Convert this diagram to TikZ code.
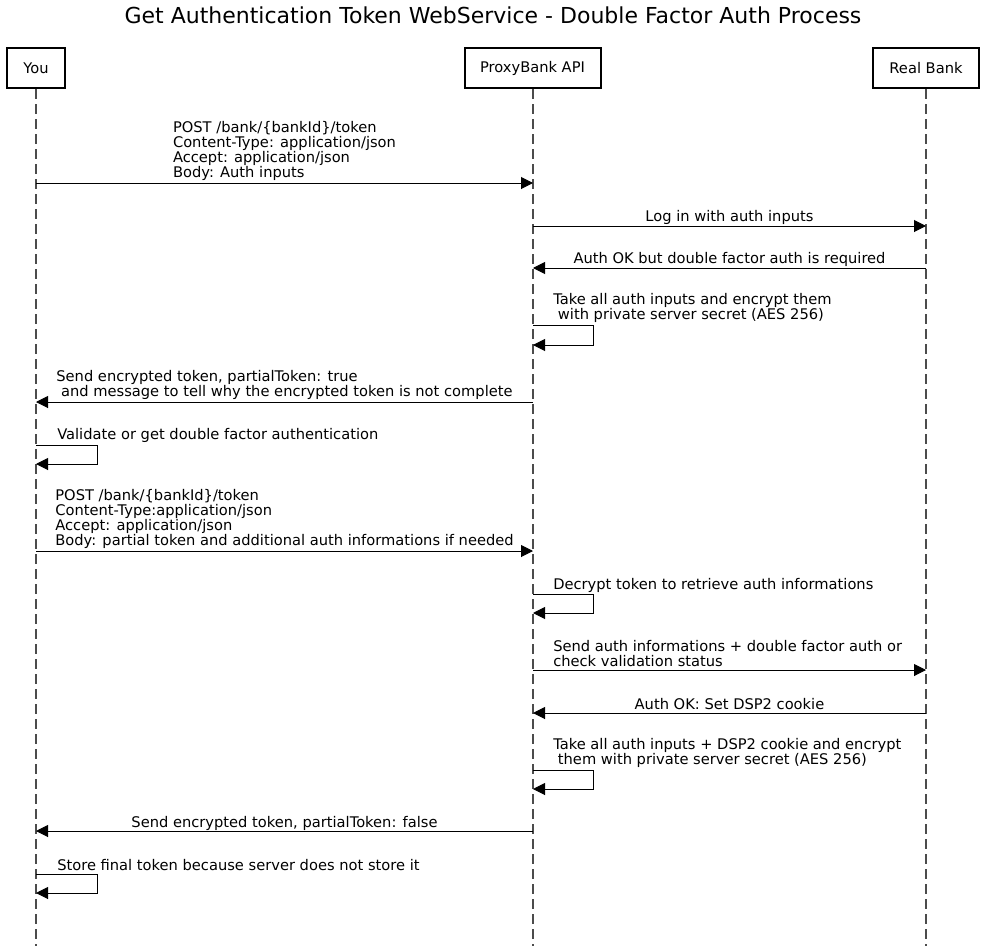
\documentclass[tikz,border=0pt]{standalone}
\usepackage{fontspec}
\setmainfont{DejaVu Sans}
\usetikzlibrary{arrows.meta}
\tikzset{
  actor/.style={draw, line width=1.5pt, inner sep=0pt, minimum height=30pt, font=\fontsize{11}{11.25}\selectfont},
  lifeline/.style={line width=0.9pt, black!70, dash pattern=on 7.5pt off 3.75pt},
  msg/.style={line width=0.75pt, -{Triangle[length=9pt,width=9pt]}},
  lbl/.style={inner sep=0pt, align=left, font=\fontsize{11}{11.25}\selectfont},
  ttl/.style={inner sep=0pt, font=\fontsize{16.5}{18}\selectfont}
}
\begin{document}
\begin{tikzpicture}[x=0.75pt,y=-0.75pt]
\useasboundingbox (0,0) rectangle (986,946);
\fill[white] (0,0) rectangle (986,946);
\node[ttl] (title) at (493,15.5) {Get Authentication Token WebService - Double Factor Auth Process};
\node[actor, minimum width=43pt] (you) at (36,68) {You};
\node[actor, minimum width=102pt] (proxy) at (532.5,68) {ProxyBank API};
\node[actor, minimum width=79pt] (real) at (926,68) {Real Bank};
\coordinate (youEnd) at (36,946);
\coordinate (proxyEnd) at (533,946);
\coordinate (realEnd) at (926,946);
\draw[lifeline] (you.south) -- (youEnd);
\draw[lifeline] (proxy.south -| proxyEnd) -- (proxyEnd);
\draw[lifeline] (real.south) -- (realEnd);
% 1
\draw[msg] (youEnd |- 0,183) -- (proxyEnd |- 0,183);
\node[lbl] (l1) at (284.5,151) {POST /bank/\{bankId\}/token\\Content-Type: application/json\\Accept: application/json\\Body: Auth inputs};
% 2
\draw[msg] (proxyEnd |- 0,226) -- (realEnd |- 0,226);
\node[lbl] (l2) at (729.5,217) {Log in with auth inputs};
% 3
\draw[msg] (realEnd |- 0,268) -- (proxyEnd |- 0,268);
\node[lbl] (l3) at (729.5,259) {Auth OK but double factor auth is required};
% 4
\draw[msg] (proxyEnd |- 0,325) -- (593,325) -- (593,345) -- (proxyEnd |- 0,345);
\node[lbl, anchor=west] (l4) at (553,308) {Take all auth inputs and encrypt them\\\ with private server secret (AES 256)};
% 5
\draw[msg] (proxyEnd |- 0,402) -- (youEnd |- 0,402);
\node[lbl] (l5) at (284.5,385) {Send encrypted token, partialToken: true\\\ and message to tell why the encrypted token is not complete};
% 6
\draw[msg] (youEnd |- 0,445) -- (97,445) -- (97,464) -- (youEnd |- 0,464);
\node[lbl, anchor=west] (l6) at (57,435) {Validate or get double factor authentication};
% 7
\draw[msg] (youEnd |- 0,551) -- (proxyEnd |- 0,551);
\node[lbl] (l7) at (284.5,519) {POST /bank/\{bankId\}/token\\Content-Type:application/json\\Accept: application/json\\Body: partial token and additional auth informations if needed};
% 8
\draw[msg] (proxyEnd |- 0,594) -- (593,594) -- (593,613) -- (proxyEnd |- 0,613);
\node[lbl, anchor=west] (l8) at (553,585) {Decrypt token to retrieve auth informations};
% 9
\draw[msg] (proxyEnd |- 0,670) -- (realEnd |- 0,670);
\node[lbl, anchor=west] (l9) at (553,653.5) {Send auth informations + double factor auth or\\check validation status};
% 10
\draw[msg] (realEnd |- 0,713) -- (proxyEnd |- 0,713);
\node[lbl] (l10) at (729.5,704) {Auth OK: Set DSP2 cookie};
% 11
\draw[msg] (proxyEnd |- 0,770) -- (593,770) -- (593,789) -- (proxyEnd |- 0,789);
\node[lbl, anchor=west] (l11) at (553,753) {Take all auth inputs + DSP2 cookie and encrypt\\\ them with private server secret (AES 256)};
% 12
\draw[msg] (proxyEnd |- 0,831) -- (youEnd |- 0,831);
\node[lbl] (l12) at (284.5,823) {Send encrypted token, partialToken: false};
% 13
\draw[msg] (youEnd |- 0,874) -- (97,874) -- (97,893) -- (youEnd |- 0,893);
\node[lbl, anchor=west] (l13) at (57,865) {Store final token because server does not store it};
\end{tikzpicture}
\end{document}
